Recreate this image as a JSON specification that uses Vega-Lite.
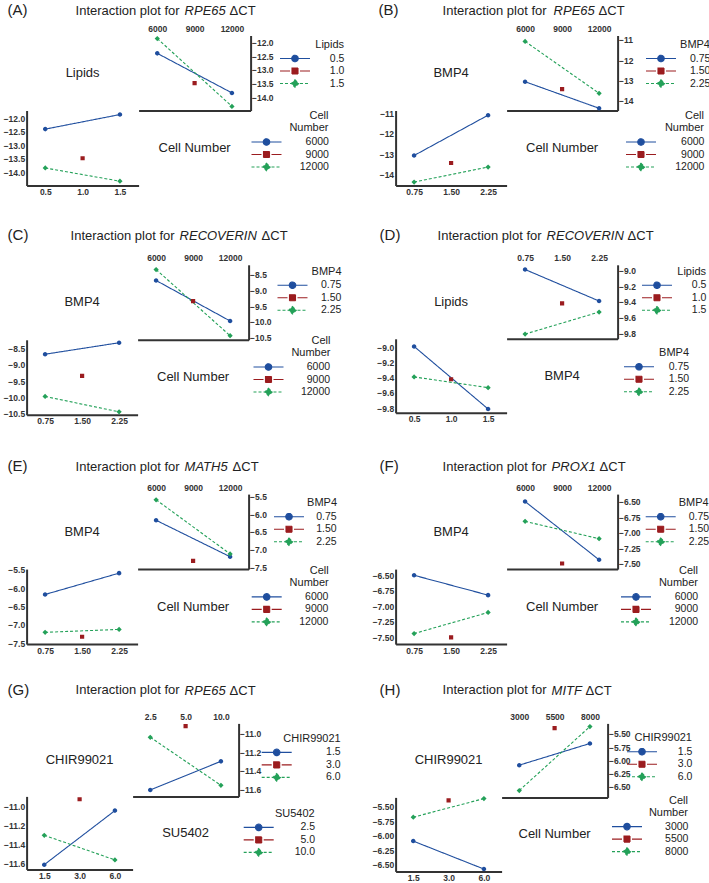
{
  "$schema": "https://vega.github.io/schema/vega-lite/v6.json",
  "padding": {"left": 2.6, "top": 2.5, "right": 0, "bottom": 0},
  "columns": 2,
  "bounds": "flush",
  "spacing": {"column": 369, "row": 229.3},
  "resolve": {"scale": {"color": "independent", "shape": "independent", "strokeDash": "independent"}},
  "datasets": {
    "dA": [
      {"a": "0.5", "b": "6000", "y": -12.40},
      {"a": "1.5", "b": "6000", "y": -11.86},
      {"a": "0.5", "b": "12000", "y": -13.84},
      {"a": "1.5", "b": "12000", "y": -14.33},
      {"a": "1.0", "b": "9000", "y": -13.48}
    ],
    "dB": [
      {"a": "0.75", "b": "6000", "y": -13.07},
      {"a": "2.25", "b": "6000", "y": -11.08},
      {"a": "0.75", "b": "12000", "y": -14.38},
      {"a": "2.25", "b": "12000", "y": -13.64},
      {"a": "1.50", "b": "9000", "y": -13.44}
    ],
    "dC": [
      {"a": "0.75", "b": "6000", "y": -8.68},
      {"a": "2.25", "b": "6000", "y": -8.33},
      {"a": "0.75", "b": "12000", "y": -9.97},
      {"a": "2.25", "b": "12000", "y": -10.44},
      {"a": "1.50", "b": "9000", "y": -9.34}
    ],
    "dD": [
      {"a": "0.5", "b": "0.75", "y": -8.99},
      {"a": "0.5", "b": "2.25", "y": -9.39},
      {"a": "1.5", "b": "0.75", "y": -9.81},
      {"a": "1.5", "b": "2.25", "y": -9.53},
      {"a": "1.0", "b": "1.50", "y": -9.42}
    ],
    "dE": [
      {"a": "0.75", "b": "6000", "y": -6.17},
      {"a": "2.25", "b": "6000", "y": -5.59},
      {"a": "0.75", "b": "12000", "y": -7.20},
      {"a": "2.25", "b": "12000", "y": -7.12},
      {"a": "1.50", "b": "9000", "y": -7.32}
    ],
    "dF": [
      {"a": "0.75", "b": "6000", "y": -6.50},
      {"a": "2.25", "b": "6000", "y": -6.82},
      {"a": "0.75", "b": "12000", "y": -7.44},
      {"a": "2.25", "b": "12000", "y": -7.10},
      {"a": "1.50", "b": "9000", "y": -7.50}
    ],
    "dG": [
      {"a": "1.5", "b": "2.5", "y": -11.61},
      {"a": "1.5", "b": "10.0", "y": -11.30},
      {"a": "6.0", "b": "2.5", "y": -11.04},
      {"a": "6.0", "b": "10.0", "y": -11.56},
      {"a": "3.0", "b": "5.0", "y": -10.92}
    ],
    "dH": [
      {"a": "1.5", "b": "3000", "y": -6.09},
      {"a": "1.5", "b": "8000", "y": -5.68},
      {"a": "6.0", "b": "3000", "y": -6.57},
      {"a": "6.0", "b": "8000", "y": -5.36},
      {"a": "3.0", "b": "5500", "y": -5.39}
    ]
  },
  "concat": [
    {
      "columns": 2, "spacing": 0, "bounds": "flush",
      "resolve": {"scale": {"color": "independent", "shape": "independent", "strokeDash": "independent"}},
      "concat": [
        {"width": 112, "height": 75,
          "title": {"text": "(A)", "fontSize": 15, "dx": -19, "offset": 17.5},
          "data": {"values": [{"label": "Lipids"}]},
          "mark": "text", "encoding": {"text": {"field": "label"}}},
        {"width": 112, "height": 75,
          "title": {"text": "Interaction plot for", "dx": -63, "offset": 7},
          "data": {"name": "dA"},
          "encoding": {
            "y": {"field": "y", "type": "quantitative", "scale": {"domain": [-14.48, -11.75], "nice": false, "zero": false}, "axis": {"orient": "right", "values": [-14, -13.5, -13, -12.5, -12], "format": ".1f", "title": null}},
            "color": {"field": "a", "type": "nominal", "scale": {"domain": ["0.5", "1.0", "1.5"], "range": ["#1f4e9e", "#9b1c1f", "#24a159"]}, "legend": {"title": "Lipids", "legendX": 140.4, "legendY": 3.5, "labelOffset": 43.4}},
            "strokeDash": {"field": "a", "type": "nominal", "scale": {"domain": ["0.5", "1.0", "1.5"], "range": [[1, 0], [1, 0], [3, 2]]}}
          },
          "layer": [
            {"mark": "line", "encoding": {
              "x": {"field": "b", "type": "ordinal", "scale": {"type": "point", "domain": ["6000", "9000", "12000"], "padding": 0.5}, "axis": {"orient": "bottom", "labels": false, "title": null}}}},
            {"mark": "point", "encoding": {
              "x": {"field": "b", "type": "ordinal", "axis": {"orient": "top", "domain": false, "title": null}},
              "shape": {"field": "a", "type": "nominal", "scale": {"domain": ["0.5", "1.0", "1.5"], "range": ["M-3,0H3M0.65,0A0.65,0.65,0,1,1,-0.65,0A0.65,0.65,0,1,1,0.65,0Z", "M-3,0H-1M1,0H3M-0.6,-0.6H0.6V0.6H-0.6Z", "M-3,0H3M0,-0.75L0.75,0L0,0.75L-0.75,0Z"]}}}}
          ],
          "resolve": {"axis": {"x": "independent"}}},
        {"width": 112, "height": 75,
          "title": {"text": "RPE65", "fontStyle": "italic", "dx": 158, "offset": 92},
          "data": {"name": "dA"},
          "encoding": {
            "x": {"field": "a", "type": "ordinal", "scale": {"type": "point", "domain": ["0.5", "1.0", "1.5"], "padding": 0.5}, "axis": {"orient": "bottom", "title": null}},
            "y": {"field": "y", "type": "quantitative", "scale": {"domain": [-14.49, -11.71], "nice": false, "zero": false}, "axis": {"orient": "left", "values": [-14, -13.5, -13, -12.5, -12], "format": ".1f", "title": null}},
            "color": {"field": "b", "type": "nominal", "scale": {"domain": ["6000", "9000", "12000"], "range": ["#1f4e9e", "#9b1c1f", "#24a159"]}, "legend": {"title": ["Cell", "Number"], "legendX": 223.9, "legendY": -0.5, "labelOffset": 56.4}},
            "strokeDash": {"field": "b", "type": "nominal", "scale": {"domain": ["6000", "9000", "12000"], "range": [[1, 0], [1, 0], [3, 2]]}}
          },
          "layer": [
            {"mark": "line"},
            {"mark": "point", "encoding": {
              "shape": {"field": "b", "type": "nominal", "scale": {"domain": ["6000", "9000", "12000"], "range": ["M-3,0H3M0.65,0A0.65,0.65,0,1,1,-0.65,0A0.65,0.65,0,1,1,0.65,0Z", "M-3,0H-1M1,0H3M-0.6,-0.6H0.6V0.6H-0.6Z", "M-3,0H3M0,-0.75L0.75,0L0,0.75L-0.75,0Z"]}}}}
          ]},
        {"width": 112, "height": 75,
          "title": {"text": "ΔCT", "dx": 91, "offset": 92.5},
          "data": {"values": [{"label": "Cell Number"}]},
          "mark": "text", "encoding": {"text": {"field": "label"}}}
      ]
    },
    {
      "columns": 2, "spacing": 0, "bounds": "flush",
      "resolve": {"scale": {"color": "independent", "shape": "independent", "strokeDash": "independent"}},
      "concat": [
        {"width": 111, "height": 75,
          "title": {"text": "(B)", "fontSize": 15, "dx": -17, "offset": 17.5},
          "data": {"values": [{"label": "BMP4"}]},
          "mark": "text", "encoding": {"text": {"field": "label"}}},
        {"width": 111, "height": 75,
          "title": {"text": "Interaction plot for", "dx": -64, "offset": 7},
          "data": {"name": "dB"},
          "encoding": {
            "y": {"field": "y", "type": "quantitative", "scale": {"domain": [-14.49, -10.79], "nice": false, "zero": false}, "axis": {"orient": "right", "values": [-14, -13, -12, -11], "format": "d", "title": null}},
            "color": {"field": "a", "type": "nominal", "scale": {"domain": ["0.75", "1.50", "2.25"], "range": ["#1f4e9e", "#9b1c1f", "#24a159"]}, "legend": {"title": "BMP4", "legendX": 138.4, "legendY": 3.5, "labelOffset": 43.4}},
            "strokeDash": {"field": "a", "type": "nominal", "scale": {"domain": ["0.75", "1.50", "2.25"], "range": [[1, 0], [1, 0], [3, 2]]}}
          },
          "layer": [
            {"mark": "line", "encoding": {
              "x": {"field": "b", "type": "ordinal", "scale": {"type": "point", "domain": ["6000", "9000", "12000"], "padding": 0.5}, "axis": {"orient": "bottom", "labels": false, "title": null}}}},
            {"mark": "point", "encoding": {
              "x": {"field": "b", "type": "ordinal", "axis": {"orient": "top", "domain": false, "title": null}},
              "shape": {"field": "a", "type": "nominal", "scale": {"domain": ["0.75", "1.50", "2.25"], "range": ["M-3,0H3M0.65,0A0.65,0.65,0,1,1,-0.65,0A0.65,0.65,0,1,1,0.65,0Z", "M-3,0H-1M1,0H3M-0.6,-0.6H0.6V0.6H-0.6Z", "M-3,0H3M0,-0.75L0.75,0L0,0.75L-0.75,0Z"]}}}}
          ],
          "resolve": {"axis": {"x": "independent"}}},
        {"width": 111, "height": 75,
          "title": {"text": "RPE65", "fontStyle": "italic", "dx": 158, "offset": 91.25},
          "data": {"name": "dB"},
          "encoding": {
            "x": {"field": "a", "type": "ordinal", "scale": {"type": "point", "domain": ["0.75", "1.50", "2.25"], "padding": 0.5}, "axis": {"orient": "bottom", "title": null}},
            "y": {"field": "y", "type": "quantitative", "scale": {"domain": [-14.55, -10.85], "nice": false, "zero": false}, "axis": {"orient": "left", "values": [-14, -13, -12, -11], "format": "d", "title": null}},
            "color": {"field": "b", "type": "nominal", "scale": {"domain": ["6000", "9000", "12000"], "range": ["#1f4e9e", "#9b1c1f", "#24a159"]}, "legend": {"title": ["Cell", "Number"], "legendX": 229.4, "legendY": -0.5, "labelOffset": 57.4}},
            "strokeDash": {"field": "b", "type": "nominal", "scale": {"domain": ["6000", "9000", "12000"], "range": [[1, 0], [1, 0], [3, 2]]}}
          },
          "layer": [
            {"mark": "line"},
            {"mark": "point", "encoding": {
              "shape": {"field": "b", "type": "nominal", "scale": {"domain": ["6000", "9000", "12000"], "range": ["M-3,0H3M0.65,0A0.65,0.65,0,1,1,-0.65,0A0.65,0.65,0,1,1,0.65,0Z", "M-3,0H-1M1,0H3M-0.6,-0.6H0.6V0.6H-0.6Z", "M-3,0H3M0,-0.75L0.75,0L0,0.75L-0.75,0Z"]}}}}
          ]},
        {"width": 111, "height": 75,
          "title": {"text": "ΔCT", "dx": 92, "offset": 92.5},
          "data": {"values": [{"label": "Cell Number"}]},
          "mark": "text", "encoding": {"text": {"field": "label"}}}
      ]
    },
    {
      "columns": 2, "spacing": 0, "bounds": "flush",
      "resolve": {"scale": {"color": "independent", "shape": "independent", "strokeDash": "independent"}},
      "concat": [
        {"width": 111, "height": 75,
          "title": {"text": "(C)", "fontSize": 15, "dx": -19, "offset": 21.8},
          "data": {"values": [{"label": "BMP4"}]},
          "mark": "text", "encoding": {"text": {"field": "label"}}},
        {"width": 111, "height": 75,
          "title": {"text": "Interaction plot for", "dx": -67, "offset": 11.3},
          "data": {"name": "dC"},
          "encoding": {
            "y": {"field": "y", "type": "quantitative", "scale": {"domain": [-10.57, -8.18], "nice": false, "zero": false}, "axis": {"orient": "right", "values": [-10.5, -10, -9.5, -9, -8.5], "format": ".1f", "title": null}},
            "color": {"field": "a", "type": "nominal", "scale": {"domain": ["0.75", "1.50", "2.25"], "range": ["#1f4e9e", "#9b1c1f", "#24a159"]}, "legend": {"title": "BMP4", "legendX": 138.9, "legendY": 0.9, "labelOffset": 42.9}},
            "strokeDash": {"field": "a", "type": "nominal", "scale": {"domain": ["0.75", "1.50", "2.25"], "range": [[1, 0], [1, 0], [3, 2]]}}
          },
          "layer": [
            {"mark": "line", "encoding": {
              "x": {"field": "b", "type": "ordinal", "scale": {"type": "point", "domain": ["6000", "9000", "12000"], "padding": 0.5}, "axis": {"orient": "bottom", "labels": false, "title": null}}}},
            {"mark": "point", "encoding": {
              "x": {"field": "b", "type": "ordinal", "axis": {"orient": "top", "domain": false, "title": null}},
              "shape": {"field": "a", "type": "nominal", "scale": {"domain": ["0.75", "1.50", "2.25"], "range": ["M-3,0H3M0.65,0A0.65,0.65,0,1,1,-0.65,0A0.65,0.65,0,1,1,0.65,0Z", "M-3,0H-1M1,0H3M-0.6,-0.6H0.6V0.6H-0.6Z", "M-3,0H3M0,-0.75L0.75,0L0,0.75L-0.75,0Z"]}}}}
          ],
          "resolve": {"axis": {"x": "independent"}}},
        {"width": 111, "height": 75,
          "title": {"text": "RECOVERIN", "fontStyle": "italic", "dx": 153, "offset": 92},
          "data": {"name": "dC"},
          "encoding": {
            "x": {"field": "a", "type": "ordinal", "scale": {"type": "point", "domain": ["0.75", "1.50", "2.25"], "padding": 0.5}, "axis": {"orient": "bottom", "title": null}},
            "y": {"field": "y", "type": "quantitative", "scale": {"domain": [-10.53, -8.24], "nice": false, "zero": false}, "axis": {"orient": "left", "values": [-10.5, -10, -9.5, -9, -8.5], "format": ".1f", "title": null}},
            "color": {"field": "b", "type": "nominal", "scale": {"domain": ["6000", "9000", "12000"], "range": ["#1f4e9e", "#9b1c1f", "#24a159"]}, "legend": {"title": ["Cell", "Number"], "legendX": 225.9, "legendY": -4.8, "labelOffset": 55.6}},
            "strokeDash": {"field": "b", "type": "nominal", "scale": {"domain": ["6000", "9000", "12000"], "range": [[1, 0], [1, 0], [3, 2]]}}
          },
          "layer": [
            {"mark": "line"},
            {"mark": "point", "encoding": {
              "shape": {"field": "b", "type": "nominal", "scale": {"domain": ["6000", "9000", "12000"], "range": ["M-3,0H3M0.65,0A0.65,0.65,0,1,1,-0.65,0A0.65,0.65,0,1,1,0.65,0Z", "M-3,0H-1M1,0H3M-0.6,-0.6H0.6V0.6H-0.6Z", "M-3,0H3M0,-0.75L0.75,0L0,0.75L-0.75,0Z"]}}}}
          ]},
        {"width": 111, "height": 75,
          "title": {"text": "ΔCT", "dx": 124, "offset": 96.8},
          "data": {"values": [{"label": "Cell Number"}]},
          "mark": "text", "encoding": {"text": {"field": "label"}}}
      ]
    },
    {
      "columns": 2, "spacing": 0, "bounds": "flush",
      "resolve": {"scale": {"color": "independent", "shape": "independent", "strokeDash": "independent"}},
      "concat": [
        {"width": 111, "height": 74,
          "title": {"text": "(D)", "fontSize": 15, "dx": -16, "offset": 21.8},
          "data": {"values": [{"label": "Lipids"}]},
          "mark": "text", "encoding": {"text": {"field": "label"}}},
        {"width": 111, "height": 74,
          "title": {"text": "Interaction plot for", "dx": -69, "offset": 11.3},
          "data": {"name": "dD"},
          "encoding": {
            "y": {"field": "y", "type": "quantitative", "scale": {"domain": [-9.87, -8.93], "nice": false, "zero": false}, "axis": {"orient": "right", "values": [-9.8, -9.6, -9.4, -9.2, -9.0], "format": ".1f", "title": null}},
            "color": {"field": "a", "type": "nominal", "scale": {"domain": ["0.5", "1.0", "1.5"], "range": ["#1f4e9e", "#9b1c1f", "#24a159"]}, "legend": {"title": "Lipids", "legendX": 134.4, "legendY": 0.9, "labelOffset": 43.4}},
            "strokeDash": {"field": "a", "type": "nominal", "scale": {"domain": ["0.5", "1.0", "1.5"], "range": [[1, 0], [1, 0], [3, 2]]}}
          },
          "layer": [
            {"mark": "line", "encoding": {
              "x": {"field": "b", "type": "ordinal", "scale": {"type": "point", "domain": ["0.75", "1.50", "2.25"], "padding": 0.5}, "axis": {"orient": "bottom", "labels": false, "title": null}}}},
            {"mark": "point", "encoding": {
              "x": {"field": "b", "type": "ordinal", "axis": {"orient": "top", "domain": false, "title": null}},
              "shape": {"field": "a", "type": "nominal", "scale": {"domain": ["0.5", "1.0", "1.5"], "range": ["M-3,0H3M0.65,0A0.65,0.65,0,1,1,-0.65,0A0.65,0.65,0,1,1,0.65,0Z", "M-3,0H-1M1,0H3M-0.6,-0.6H0.6V0.6H-0.6Z", "M-3,0H3M0,-0.75L0.75,0L0,0.75L-0.75,0Z"]}}}}
          ],
          "resolve": {"axis": {"x": "independent"}}},
        {"width": 111, "height": 74,
          "title": {"text": "RECOVERIN", "fontStyle": "italic", "dx": 151, "offset": 95.8},
          "data": {"name": "dD"},
          "encoding": {
            "x": {"field": "a", "type": "ordinal", "scale": {"type": "point", "domain": ["0.5", "1.0", "1.5"], "padding": 0.5}, "axis": {"orient": "bottom", "title": null}},
            "y": {"field": "y", "type": "quantitative", "scale": {"domain": [-9.86, -8.89], "nice": false, "zero": false}, "axis": {"orient": "left", "values": [-9.8, -9.6, -9.4, -9.2, -9.0], "format": ".1f", "title": null}},
            "color": {"field": "b", "type": "nominal", "scale": {"domain": ["0.75", "1.50", "2.25"], "range": ["#1f4e9e", "#9b1c1f", "#24a159"]}, "legend": {"title": "BMP4", "legendX": 227.4, "legendY": 8.5, "labelOffset": 44.1}},
            "strokeDash": {"field": "b", "type": "nominal", "scale": {"domain": ["0.75", "1.50", "2.25"], "range": [[1, 0], [1, 0], [3, 2]]}}
          },
          "layer": [
            {"mark": "line"},
            {"mark": "point", "encoding": {
              "shape": {"field": "b", "type": "nominal", "scale": {"domain": ["0.75", "1.50", "2.25"], "range": ["M-3,0H3M0.65,0A0.65,0.65,0,1,1,-0.65,0A0.65,0.65,0,1,1,0.65,0Z", "M-3,0H-1M1,0H3M-0.6,-0.6H0.6V0.6H-0.6Z", "M-3,0H3M0,-0.75L0.75,0L0,0.75L-0.75,0Z"]}}}}
          ]},
        {"width": 111, "height": 74,
          "title": {"text": "ΔCT", "dx": 121, "offset": 95.8},
          "data": {"values": [{"label": "BMP4"}]},
          "mark": "text", "encoding": {"text": {"field": "label"}}}
      ]
    },
    {
      "columns": 2, "spacing": 0, "bounds": "flush",
      "resolve": {"scale": {"color": "independent", "shape": "independent", "strokeDash": "independent"}},
      "concat": [
        {"width": 111, "height": 75,
          "title": {"text": "(E)", "fontSize": 15, "dx": -19, "offset": 19.7},
          "data": {"values": [{"label": "BMP4"}]},
          "mark": "text", "encoding": {"text": {"field": "label"}}},
        {"width": 111, "height": 75,
          "title": {"text": "Interaction plot for", "dx": -62, "offset": 9.2},
          "data": {"name": "dE"},
          "encoding": {
            "y": {"field": "y", "type": "quantitative", "scale": {"domain": [-7.55, -5.43], "nice": false, "zero": false}, "axis": {"orient": "right", "values": [-7.5, -7, -6.5, -6, -5.5], "format": ".1f", "title": null}},
            "color": {"field": "a", "type": "nominal", "scale": {"domain": ["0.75", "1.50", "2.25"], "range": ["#1f4e9e", "#9b1c1f", "#24a159"]}, "legend": {"title": "BMP4", "legendX": 135.4, "legendY": 3.1, "labelOffset": 41.7}},
            "strokeDash": {"field": "a", "type": "nominal", "scale": {"domain": ["0.75", "1.50", "2.25"], "range": [[1, 0], [1, 0], [3, 2]]}}
          },
          "layer": [
            {"mark": "line", "encoding": {
              "x": {"field": "b", "type": "ordinal", "scale": {"type": "point", "domain": ["6000", "9000", "12000"], "padding": 0.5}, "axis": {"orient": "bottom", "labels": false, "title": null}}}},
            {"mark": "point", "encoding": {
              "x": {"field": "b", "type": "ordinal", "axis": {"orient": "top", "domain": false, "title": null}},
              "shape": {"field": "a", "type": "nominal", "scale": {"domain": ["0.75", "1.50", "2.25"], "range": ["M-3,0H3M0.65,0A0.65,0.65,0,1,1,-0.65,0A0.65,0.65,0,1,1,0.65,0Z", "M-3,0H-1M1,0H3M-0.6,-0.6H0.6V0.6H-0.6Z", "M-3,0H3M0,-0.75L0.75,0L0,0.75L-0.75,0Z"]}}}}
          ],
          "resolve": {"axis": {"x": "independent"}}},
        {"width": 111, "height": 75,
          "title": {"text": "MATH5", "fontStyle": "italic", "dx": 158, "offset": 90.5},
          "data": {"name": "dE"},
          "encoding": {
            "x": {"field": "a", "type": "ordinal", "scale": {"type": "point", "domain": ["0.75", "1.50", "2.25"], "padding": 0.5}, "axis": {"orient": "bottom", "title": null}},
            "y": {"field": "y", "type": "quantitative", "scale": {"domain": [-7.52, -5.48], "nice": false, "zero": false}, "axis": {"orient": "left", "values": [-7.5, -7, -6.5, -6, -5.5], "format": ".1f", "title": null}},
            "color": {"field": "b", "type": "nominal", "scale": {"domain": ["6000", "9000", "12000"], "range": ["#1f4e9e", "#9b1c1f", "#24a159"]}, "legend": {"title": ["Cell", "Number"], "legendX": 224.1, "legendY": -4.2, "labelOffset": 55.7}},
            "strokeDash": {"field": "b", "type": "nominal", "scale": {"domain": ["6000", "9000", "12000"], "range": [[1, 0], [1, 0], [3, 2]]}}
          },
          "layer": [
            {"mark": "line"},
            {"mark": "point", "encoding": {
              "shape": {"field": "b", "type": "nominal", "scale": {"domain": ["6000", "9000", "12000"], "range": ["M-3,0H3M0.65,0A0.65,0.65,0,1,1,-0.65,0A0.65,0.65,0,1,1,0.65,0Z", "M-3,0H-1M1,0H3M-0.6,-0.6H0.6V0.6H-0.6Z", "M-3,0H3M0,-0.75L0.75,0L0,0.75L-0.75,0Z"]}}}}
          ]},
        {"width": 111, "height": 75,
          "title": {"text": "ΔCT", "dx": 95, "offset": 94.7},
          "data": {"values": [{"label": "Cell Number"}]},
          "mark": "text", "encoding": {"text": {"field": "label"}}}
      ]
    },
    {
      "columns": 2, "spacing": 0, "bounds": "flush",
      "resolve": {"scale": {"color": "independent", "shape": "independent", "strokeDash": "independent"}},
      "concat": [
        {"width": 111, "height": 75,
          "title": {"text": "(F)", "fontSize": 15, "dx": -16, "offset": 19.7},
          "data": {"values": [{"label": "BMP4"}]},
          "mark": "text", "encoding": {"text": {"field": "label"}}},
        {"width": 111, "height": 75,
          "title": {"text": "Interaction plot for", "dx": -64, "offset": 9.2},
          "data": {"name": "dF"},
          "encoding": {
            "y": {"field": "y", "type": "quantitative", "scale": {"domain": [-7.59, -6.38], "nice": false, "zero": false}, "axis": {"orient": "right", "values": [-7.5, -7.25, -7, -6.75, -6.5], "format": ".2f", "title": null}},
            "color": {"field": "a", "type": "nominal", "scale": {"domain": ["0.75", "1.50", "2.25"], "range": ["#1f4e9e", "#9b1c1f", "#24a159"]}, "legend": {"title": "BMP4", "legendX": 138.1, "legendY": 3.1, "labelOffset": 42.4}},
            "strokeDash": {"field": "a", "type": "nominal", "scale": {"domain": ["0.75", "1.50", "2.25"], "range": [[1, 0], [1, 0], [3, 2]]}}
          },
          "layer": [
            {"mark": "line", "encoding": {
              "x": {"field": "b", "type": "ordinal", "scale": {"type": "point", "domain": ["6000", "9000", "12000"], "padding": 0.5}, "axis": {"orient": "bottom", "labels": false, "title": null}}}},
            {"mark": "point", "encoding": {
              "x": {"field": "b", "type": "ordinal", "axis": {"orient": "top", "domain": false, "title": null}},
              "shape": {"field": "a", "type": "nominal", "scale": {"domain": ["0.75", "1.50", "2.25"], "range": ["M-3,0H3M0.65,0A0.65,0.65,0,1,1,-0.65,0A0.65,0.65,0,1,1,0.65,0Z", "M-3,0H-1M1,0H3M-0.6,-0.6H0.6V0.6H-0.6Z", "M-3,0H3M0,-0.75L0.75,0L0,0.75L-0.75,0Z"]}}}}
          ],
          "resolve": {"axis": {"x": "independent"}}},
        {"width": 111, "height": 75,
          "title": {"text": "PROX1", "fontStyle": "italic", "dx": 156, "offset": 90.5},
          "data": {"name": "dF"},
          "encoding": {
            "x": {"field": "a", "type": "ordinal", "scale": {"type": "point", "domain": ["0.75", "1.50", "2.25"], "padding": 0.5}, "axis": {"orient": "bottom", "title": null}},
            "y": {"field": "y", "type": "quantitative", "scale": {"domain": [-7.61, -6.40], "nice": false, "zero": false}, "axis": {"orient": "left", "values": [-7.5, -7.25, -7, -6.75, -6.5], "format": ".2f", "title": null}},
            "color": {"field": "b", "type": "nominal", "scale": {"domain": ["6000", "9000", "12000"], "range": ["#1f4e9e", "#9b1c1f", "#24a159"]}, "legend": {"title": ["Cell", "Number"], "legendX": 224.4, "legendY": -4.2, "labelOffset": 56.1}},
            "strokeDash": {"field": "b", "type": "nominal", "scale": {"domain": ["6000", "9000", "12000"], "range": [[1, 0], [1, 0], [3, 2]]}}
          },
          "layer": [
            {"mark": "line"},
            {"mark": "point", "encoding": {
              "shape": {"field": "b", "type": "nominal", "scale": {"domain": ["6000", "9000", "12000"], "range": ["M-3,0H3M0.65,0A0.65,0.65,0,1,1,-0.65,0A0.65,0.65,0,1,1,0.65,0Z", "M-3,0H-1M1,0H3M-0.6,-0.6H0.6V0.6H-0.6Z", "M-3,0H3M0,-0.75L0.75,0L0,0.75L-0.75,0Z"]}}}}
          ]},
        {"width": 111, "height": 75,
          "title": {"text": "ΔCT", "dx": 93, "offset": 94.7},
          "data": {"values": [{"label": "Cell Number"}]},
          "mark": "text", "encoding": {"text": {"field": "label"}}}
      ]
    },
    {
      "columns": 2, "spacing": 0, "bounds": "flush",
      "resolve": {"scale": {"color": "independent", "shape": "independent", "strokeDash": "independent"}},
      "concat": [
        {"width": 106, "height": 73,
          "title": {"text": "(G)", "fontSize": 15, "dx": -19, "offset": 25.5},
          "data": {"values": [{"label": "CHIR99021"}]},
          "mark": "text", "encoding": {"text": {"field": "label"}}},
        {"width": 106, "height": 73,
          "title": {"text": "Interaction plot for", "dx": -57, "offset": 15},
          "data": {"name": "dG"},
          "encoding": {
            "y": {"field": "y", "type": "quantitative", "scale": {"domain": [-11.68, -10.89], "nice": false, "zero": false}, "axis": {"orient": "right", "values": [-11.6, -11.4, -11.2, -11.0], "format": ".1f", "title": null}},
            "color": {"field": "a", "type": "nominal", "scale": {"domain": ["1.5", "3.0", "6.0"], "range": ["#1f4e9e", "#9b1c1f", "#24a159"]}, "legend": {"title": "CHIR99021", "legendX": 128.1, "legendY": 9.5, "labelOffset": 58}},
            "strokeDash": {"field": "a", "type": "nominal", "scale": {"domain": ["1.5", "3.0", "6.0"], "range": [[1, 0], [1, 0], [3, 2]]}}
          },
          "layer": [
            {"mark": "line", "encoding": {
              "x": {"field": "b", "type": "ordinal", "scale": {"type": "point", "domain": ["2.5", "5.0", "10.0"], "padding": 0.5}, "axis": {"orient": "bottom", "labels": false, "title": null}}}},
            {"mark": "point", "encoding": {
              "x": {"field": "b", "type": "ordinal", "axis": {"orient": "top", "domain": false, "title": null}},
              "shape": {"field": "a", "type": "nominal", "scale": {"domain": ["1.5", "3.0", "6.0"], "range": ["M-3,0H3M0.65,0A0.65,0.65,0,1,1,-0.65,0A0.65,0.65,0,1,1,0.65,0Z", "M-3,0H-1M1,0H3M-0.6,-0.6H0.6V0.6H-0.6Z", "M-3,0H3M0,-0.75L0.75,0L0,0.75L-0.75,0Z"]}}}}
          ],
          "resolve": {"axis": {"x": "independent"}}},
        {"width": 106, "height": 73,
          "title": {"text": "RPE65", "fontStyle": "italic", "dx": 158, "offset": 98.5},
          "data": {"name": "dG"},
          "encoding": {
            "x": {"field": "a", "type": "ordinal", "scale": {"type": "point", "domain": ["1.5", "3.0", "6.0"], "padding": 0.5}, "axis": {"orient": "bottom", "title": null}},
            "y": {"field": "y", "type": "quantitative", "scale": {"domain": [-11.66, -10.89], "nice": false, "zero": false}, "axis": {"orient": "left", "values": [-11.6, -11.4, -11.2, -11.0], "format": ".1f", "title": null}},
            "color": {"field": "b", "type": "nominal", "scale": {"domain": ["2.5", "5.0", "10.0"], "range": ["#1f4e9e", "#9b1c1f", "#24a159"]}, "legend": {"title": "SU5402", "legendX": 216.1, "legendY": 11.5, "labelOffset": 50.4}},
            "strokeDash": {"field": "b", "type": "nominal", "scale": {"domain": ["2.5", "5.0", "10.0"], "range": [[1, 0], [1, 0], [3, 2]]}}
          },
          "layer": [
            {"mark": "line"},
            {"mark": "point", "encoding": {
              "shape": {"field": "b", "type": "nominal", "scale": {"domain": ["2.5", "5.0", "10.0"], "range": ["M-3,0H3M0.65,0A0.65,0.65,0,1,1,-0.65,0A0.65,0.65,0,1,1,0.65,0Z", "M-3,0H-1M1,0H3M-0.6,-0.6H0.6V0.6H-0.6Z", "M-3,0H3M0,-0.75L0.75,0L0,0.75L-0.75,0Z"]}}}}
          ]},
        {"width": 106, "height": 73,
          "title": {"text": "ΔCT", "dx": 97, "offset": 98.5},
          "data": {"values": [{"label": "SU5402"}]},
          "mark": "text", "encoding": {"text": {"field": "label"}}}
      ]
    },
    {
      "columns": 2, "spacing": 0, "bounds": "flush",
      "resolve": {"scale": {"color": "independent", "shape": "independent", "strokeDash": "independent"}},
      "concat": [
        {"width": 106, "height": 74,
          "title": {"text": "(H)", "fontSize": 15, "dx": -16, "offset": 25.5},
          "data": {"values": [{"label": "CHIR99021"}]},
          "mark": "text", "encoding": {"text": {"field": "label"}}},
        {"width": 106, "height": 74,
          "title": {"text": "Interaction plot for", "dx": -59, "offset": 15},
          "data": {"name": "dH"},
          "encoding": {
            "y": {"field": "y", "type": "quantitative", "scale": {"domain": [-6.70, -5.30], "nice": false, "zero": false}, "axis": {"orient": "right", "values": [-6.5, -6.25, -6, -5.75, -5.5], "format": ".2f", "title": null}},
            "color": {"field": "a", "type": "nominal", "scale": {"domain": ["1.5", "3.0", "6.0"], "range": ["#1f4e9e", "#9b1c1f", "#24a159"]}, "legend": {"title": "CHIR99021", "legendX": 124.4, "legendY": 8.8, "labelOffset": 44.4}},
            "strokeDash": {"field": "a", "type": "nominal", "scale": {"domain": ["1.5", "3.0", "6.0"], "range": [[1, 0], [1, 0], [3, 2]]}}
          },
          "layer": [
            {"mark": "line", "encoding": {
              "x": {"field": "b", "type": "ordinal", "scale": {"type": "point", "domain": ["3000", "5500", "8000"], "padding": 0.5}, "axis": {"orient": "bottom", "labels": false, "title": null}}}},
            {"mark": "point", "encoding": {
              "x": {"field": "b", "type": "ordinal", "axis": {"orient": "top", "domain": false, "title": null}},
              "shape": {"field": "a", "type": "nominal", "scale": {"domain": ["1.5", "3.0", "6.0"], "range": ["M-3,0H3M0.65,0A0.65,0.65,0,1,1,-0.65,0A0.65,0.65,0,1,1,0.65,0Z", "M-3,0H-1M1,0H3M-0.6,-0.6H0.6V0.6H-0.6Z", "M-3,0H3M0,-0.75L0.75,0L0,0.75L-0.75,0Z"]}}}}
          ],
          "resolve": {"axis": {"x": "independent"}}},
        {"width": 106, "height": 74,
          "title": {"text": "MITF", "fontStyle": "italic", "dx": 156, "offset": 96.7},
          "data": {"name": "dH"},
          "encoding": {
            "x": {"field": "a", "type": "ordinal", "scale": {"type": "point", "domain": ["1.5", "3.0", "6.0"], "padding": 0.5}, "axis": {"orient": "bottom", "title": null}},
            "y": {"field": "y", "type": "quantitative", "scale": {"domain": [-6.61, -5.34], "nice": false, "zero": false}, "axis": {"orient": "left", "values": [-6.5, -6.25, -6, -5.75, -5.5], "format": ".2f", "title": null}},
            "color": {"field": "b", "type": "nominal", "scale": {"domain": ["3000", "5500", "8000"], "range": ["#1f4e9e", "#9b1c1f", "#24a159"]}, "legend": {"title": ["Cell", "Number"], "legendX": 215.4, "legendY": -2.8, "labelOffset": 55.4}},
            "strokeDash": {"field": "b", "type": "nominal", "scale": {"domain": ["3000", "5500", "8000"], "range": [[1, 0], [1, 0], [3, 2]]}}
          },
          "layer": [
            {"mark": "line"},
            {"mark": "point", "encoding": {
              "shape": {"field": "b", "type": "nominal", "scale": {"domain": ["3000", "5500", "8000"], "range": ["M-3,0H3M0.65,0A0.65,0.65,0,1,1,-0.65,0A0.65,0.65,0,1,1,0.65,0Z", "M-3,0H-1M1,0H3M-0.6,-0.6H0.6V0.6H-0.6Z", "M-3,0H3M0,-0.75L0.75,0L0,0.75L-0.75,0Z"]}}}}
          ]},
        {"width": 106, "height": 74,
          "title": {"text": "ΔCT", "dx": 84, "offset": 99.5},
          "data": {"values": [{"label": "Cell Number"}]},
          "mark": "text", "encoding": {"text": {"field": "label"}}}
      ]
    }
  ],
  "config": {
    "font": "Liberation Sans",
    "view": {"stroke": null},
    "axis": {"grid": false, "ticks": false, "labelFontSize": 8.5, "labelFontWeight": "bold", "labelColor": "#333", "domainColor": "#333", "domainWidth": 2, "labelPadding": 2, "labelAngle": 0},
    "axisRight": {"labelPadding": 1},
    "legend": {"orient": "none", "padding": 0, "symbolSize": 100, "symbolOffset": 10, "symbolStrokeWidth": 1.2, "labelFontSize": 10.5, "labelColor": "#222", "labelAlign": "right", "titleFontSize": 11, "titleFontWeight": "normal", "titleColor": "#222", "titleAnchor": "end", "titleAlign": "right", "titlePadding": 2.5, "rowPadding": 0.5, "titleLineHeight": 12.5},
    "title": {"fontSize": 13, "fontWeight": "normal", "anchor": "start", "frame": "group", "color": "#222", "baseline": "middle"},
    "text": {"fontSize": 13, "color": "#222"},
    "line": {"strokeWidth": 1.1},
    "point": {"size": 49, "filled": true, "opacity": 1}
  }
}
